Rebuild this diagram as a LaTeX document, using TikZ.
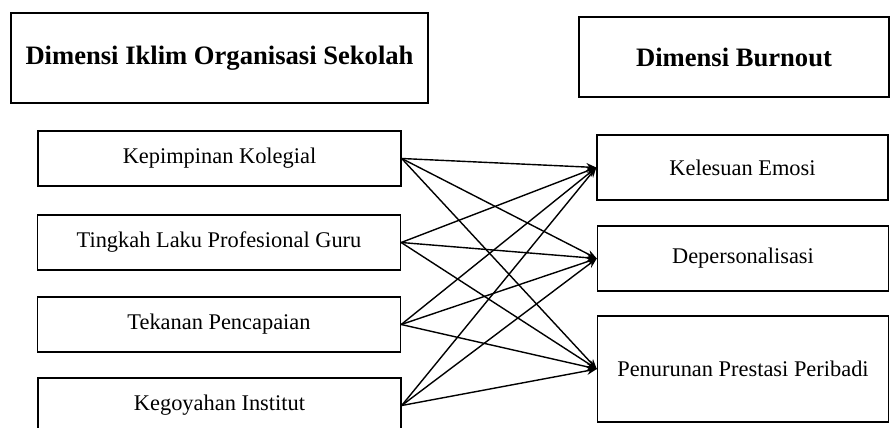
\documentclass[tikz,border=0pt]{standalone}
\usepackage{fontspec}
\setmainfont{Liberation Serif}
\usepackage{tikz}
\usetikzlibrary{arrows.meta, positioning}

\begin{document}
\begin{tikzpicture}[
    x=0.5pt, y=-0.5pt,
    box/.style={rectangle, draw=black, line width=0.7pt, minimum width=181.5pt, minimum height=27.5pt, text centered, font=\fontsize{11.2}{13}\selectfont, inner sep=0pt},
    rbox/.style={box, minimum width=145.5pt, minimum height=32.5pt},
    headbox/.style={rectangle, draw=black, line width=0.7pt, text centered, font=\fontsize{13.3}{16}\selectfont\bfseries, inner sep=0pt},
    arrow/.style={-{Stealth[length=5pt, width=4pt]}, line width=0.7pt, black}
]
    \useasboundingbox (0,0) rectangle (891,428);

    % Headings
    \node[headbox, minimum width=208.5pt, minimum height=45pt] (iklim) at (219.5,58) {Dimensi Iklim Organisasi Sekolah};
    \node[headbox, minimum width=155pt, minimum height=40pt] (burnout) at (734,57) {Dimensi Burnout};

    % Iklim organisasi sekolah
    \node[box] (kolegial) at (219.5,158.5) {Kepimpinan Kolegial};
    \node[box] (guru) at (219,242.5) {Tingkah Laku Profesional Guru};
    \node[box] (tekanan) at (219,324.5) {Tekanan Pencapaian};
    \node[box] (institut) at (219.5,405.5) {Kegoyahan Institut};

    % Burnout
    \node[rbox] (emosi) at (742.5,167.5) {Kelesuan Emosi};
    \node[rbox] (depers) at (743,258.5) {Depersonalisasi};
    \node[rbox, minimum height=53pt] (prestasi) at (743,369) {Penurunan Prestasi Peribadi};

    % Hubungan
    \draw[arrow] (kolegial.east) -- (emosi.west);
    \draw[arrow] (kolegial.east) -- (depers.west);
    \draw[arrow] (kolegial.east) -- (prestasi.west);

    \draw[arrow] (guru.east) -- (emosi.west);
    \draw[arrow] (guru.east) -- (depers.west);
    \draw[arrow] (guru.east) -- (prestasi.west);

    \draw[arrow] (tekanan.east) -- (emosi.west);
    \draw[arrow] (tekanan.east) -- (depers.west);
    \draw[arrow] (tekanan.east) -- (prestasi.west);

    \draw[arrow] (institut.east) -- (emosi.west);
    \draw[arrow] (institut.east) -- (depers.west);
    \draw[arrow] (institut.east) -- (prestasi.west);
\end{tikzpicture}
\end{document}
